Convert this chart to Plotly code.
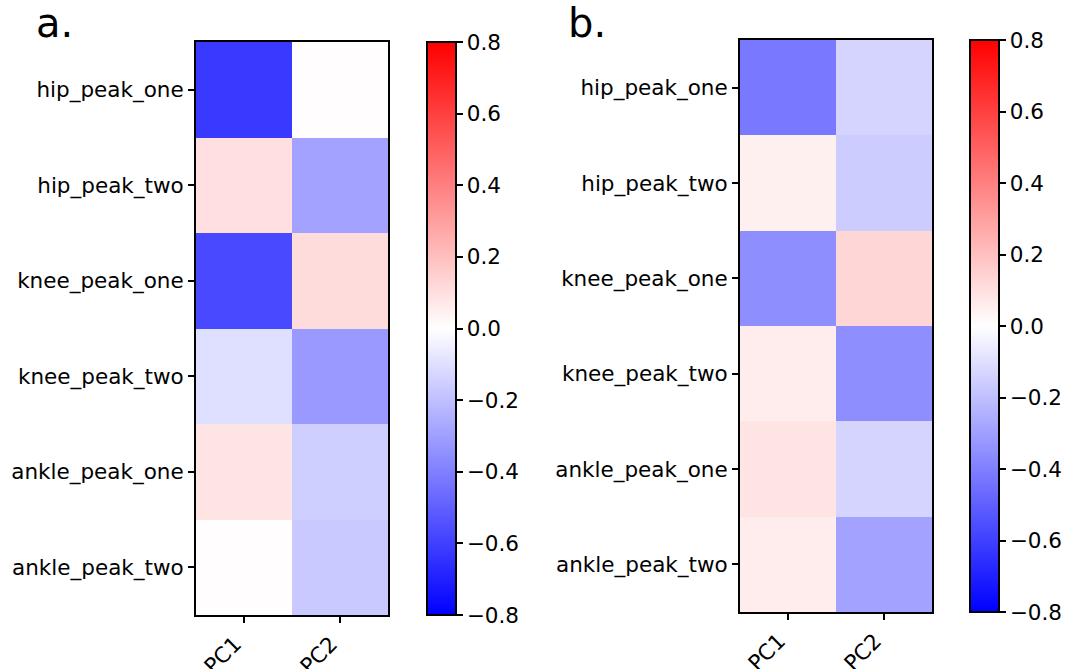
import plotly.graph_objects as go

rows = ["hip_peak_one", "hip_peak_two", "knee_peak_one", "knee_peak_two",
        "ankle_peak_one", "ankle_peak_two"]
cols = ["PC1", "PC2"]

# panel a values (rows x [PC1, PC2])
a_pc1 = [-0.62, 0.10, -0.57, -0.10, 0.085, 0.005]
a_pc2 = [0.005, -0.29, 0.11, -0.32, -0.15, -0.17]
# panel b values
b_pc1 = [-0.42, 0.047, -0.355, 0.06, 0.085, 0.06]
b_pc2 = [-0.135, -0.16, 0.13, -0.355, -0.135, -0.29]

cb_ticks = [-0.8, -0.6, -0.4, -0.2, 0.0, 0.2, 0.4, 0.6, 0.8]

W, H = 1068, 669
FONT = dict(family="DejaVu Sans", size=21.5, color="black")
bwr = [[0, "rgb(0,0,255)"], [0.5, "rgb(255,255,255)"], [1, "rgb(255,0,0)"]]

za = [[p1, p2] for p1, p2 in zip(a_pc1, a_pc2)]
zb = [[p1, p2] for p1, p2 in zip(b_pc1, b_pc2)]

fig = go.Figure()
fig.add_trace(go.Heatmap(z=za, x=cols, y=rows, coloraxis="coloraxis",
                         xaxis="x", yaxis="y"))
fig.add_trace(go.Heatmap(z=zb, x=cols, y=rows, coloraxis="coloraxis2",
                         xaxis="x2", yaxis="y2"))

def px(x):
    return x / W

def py(y):
    return 1 - y / H

axis_common = dict(showline=True, linewidth=2, linecolor="black", mirror=True,
                   ticks="outside", ticklen=6, tickwidth=1.5, tickcolor="black",
                   showgrid=False, zeroline=False, tickfont=FONT,
                   automargin=False)

a_box = (196, 388, 42, 615)
b_box = (740, 932, 40, 612)

def cbar(x_left, top, bottom):
    return dict(x=px(x_left), xanchor="left", xref="paper",
                y=py(bottom), yanchor="bottom",
                lenmode="pixels", len=bottom - top,
                thicknessmode="pixels", thickness=29,
                outlinewidth=2, outlinecolor="black",
                tickmode="array", tickvals=cb_ticks, tickformat=".1f",
                ticks="outside", ticklen=6, tickwidth=1.5, tickcolor="black",
                tickfont=FONT, xpad=0, ypad=0)

fig.update_layout(
    width=W, height=H,
    margin=dict(l=0, r=0, t=0, b=0, autoexpand=False),
    paper_bgcolor="white", plot_bgcolor="white",
    font=FONT,
    xaxis=dict(domain=[px(a_box[0]), px(a_box[1])], anchor="y",
               tickangle=-45, ticklabelshift=-9, **axis_common),
    yaxis=dict(domain=[py(a_box[3]), py(a_box[2])], anchor="x",
               autorange="reversed", **axis_common),
    xaxis2=dict(domain=[px(b_box[0]), px(b_box[1])], anchor="y2",
                tickangle=-45, ticklabelshift=-9, **axis_common),
    yaxis2=dict(domain=[py(b_box[3]), py(b_box[2])], anchor="x2",
                autorange="reversed", **axis_common),
    coloraxis=dict(colorscale=bwr, cmin=-0.8, cmax=0.8,
                   colorbar=cbar(427, a_box[2], a_box[3])),
    coloraxis2=dict(colorscale=bwr, cmin=-0.8, cmax=0.8,
                    colorbar=cbar(970, b_box[2], b_box[3])),
    annotations=[
        dict(text="a.", x=px(34), y=py(48), xref="paper", yref="paper",
             xanchor="left", yanchor="bottom", showarrow=False,
             font=dict(family="DejaVu Sans", size=40, color="black")),
        dict(text="b.", x=px(566), y=py(48), xref="paper", yref="paper",
             xanchor="left", yanchor="bottom", showarrow=False,
             font=dict(family="DejaVu Sans", size=40, color="black")),
    ],
)

fig.write_html("out.html",
               config={"displayModeBar": False},
               post_script="document.body.style.margin='0';"
                           "document.body.style.overflow='hidden';")
